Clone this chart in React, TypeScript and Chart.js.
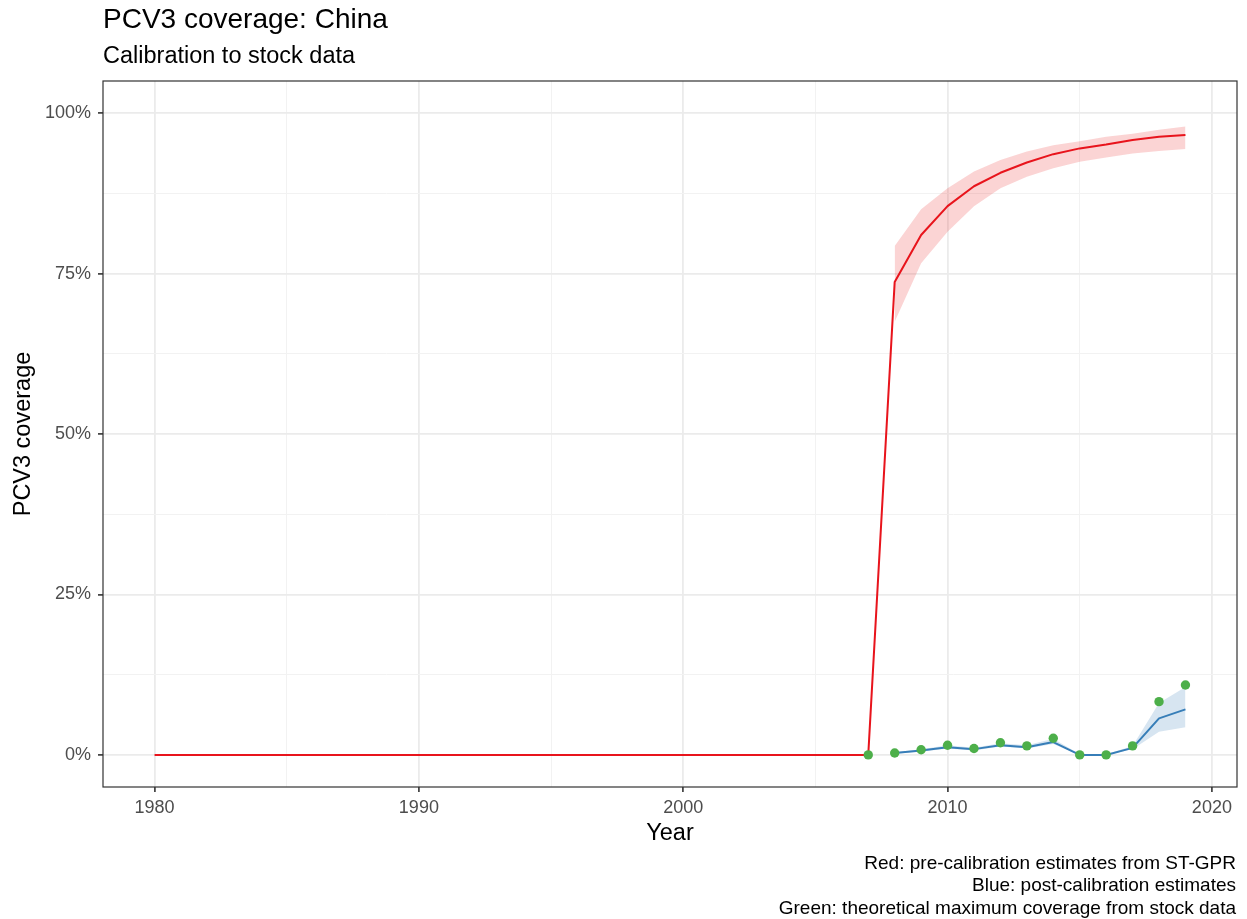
import React, { useEffect, useRef } from "react";
import { Chart, registerables } from "chart.js";

Chart.register(...registerables);

// Years and coverage values (percent)
const redYears = [
  1980, 1981, 1982, 1983, 1984, 1985, 1986, 1987, 1988, 1989,
  1990, 1991, 1992, 1993, 1994, 1995, 1996, 1997, 1998, 1999,
  2000, 2001, 2002, 2003, 2004, 2005, 2006, 2007, 2008, 2009,
  2010, 2011, 2012, 2013, 2014, 2015, 2016, 2017, 2018, 2019,
];
const redValues = [
  0, 0, 0, 0, 0, 0, 0, 0, 0, 0,
  0, 0, 0, 0, 0, 0, 0, 0, 0, 0,
  0, 0, 0, 0, 0, 0, 0, 0, 73.7, 81.0,
  85.5, 88.6, 90.7, 92.3, 93.6, 94.5, 95.1, 95.8, 96.3, 96.6,
];

const bandYears = [2008, 2009, 2010, 2011, 2012, 2013, 2014, 2015, 2016, 2017, 2018, 2019];
const redLower = [67.5, 76.6, 81.5, 85.5, 88.3, 90.1, 91.4, 92.4, 93.1, 93.7, 94.1, 94.4];
const redUpper = [79.3, 85.0, 88.3, 90.9, 92.7, 94.0, 95.0, 95.6, 96.3, 96.8, 97.4, 97.9];

const blueValues = [0.3, 0.7, 1.2, 0.9, 1.5, 1.2, 2.0, 0.0, 0.0, 1.1, 5.7, 7.1];
const blueLower = [0.2, 0.5, 1.0, 0.7, 1.3, 1.0, 1.7, 0.0, 0.0, 0.9, 3.6, 4.3];
const blueUpper = [0.4, 0.9, 1.5, 1.1, 1.8, 1.5, 2.5, 0.1, 0.1, 1.4, 8.1, 10.6];

const greenYears = [2007, 2008, 2009, 2010, 2011, 2012, 2013, 2014, 2015, 2016, 2017, 2018, 2019];
const greenValues = [0.0, 0.3, 0.8, 1.5, 1.0, 1.9, 1.4, 2.6, 0.0, 0.0, 1.4, 8.3, 10.9];

const xTickValues = [1980, 1985, 1990, 1995, 2000, 2005, 2010, 2015, 2020];
const yTickValues = [0, 12.5, 25, 37.5, 50, 62.5, 75, 87.5, 100];

const titleText = "PCV3 coverage: China";
const subtitleText = "Calibration to stock data";
const xTitle = "Year";
const yTitle = "PCV3 coverage";
const captionLines = [
  "Red: pre-calibration estimates from ST-GPR",
  "Blue: post-calibration estimates",
  "Green: theoretical maximum coverage from stock data",
];

const FONT = "'Liberation Sans', Arial, Helvetica, sans-serif";

const pts = (xs: number[], ys: number[]) => xs.map((x, i) => ({ x, y: ys[i] }));

const isMajorX = (v: number) => v % 10 === 0;
const isMajorY = (v: number) => v % 25 === 0;

const decorations = {
  id: "decorations",
  beforeDraw(chart: any) {
    const { ctx } = chart;
    ctx.save();
    ctx.fillStyle = "#ffffff";
    ctx.fillRect(0, 0, chart.width, chart.height);
    ctx.restore();
  },
  afterDraw(chart: any) {
    const { ctx, chartArea } = chart;
    const { left, right, top, bottom } = chartArea;
    ctx.save();
    // panel border
    ctx.strokeStyle = "#333333";
    ctx.lineWidth = 1.2;
    ctx.strokeRect(left, top, right - left, bottom - top);

    ctx.fillStyle = "#000000";
    ctx.textBaseline = "alphabetic";
    ctx.textAlign = "left";
    ctx.font = `28px ${FONT}`;
    ctx.fillText(titleText, left, 28);
    ctx.font = `23.5px ${FONT}`;
    ctx.fillText(subtitleText, left, 62.5);

    ctx.textAlign = "center";
    ctx.font = `23.5px ${FONT}`;
    ctx.fillText(xTitle, (left + right) / 2, 840);

    ctx.save();
    ctx.translate(30, (top + bottom) / 2);
    ctx.rotate(-Math.PI / 2);
    ctx.fillText(yTitle, 0, 0);
    ctx.restore();

    ctx.textAlign = "right";
    ctx.font = `19px ${FONT}`;
    captionLines.forEach((line, i) => {
      ctx.fillText(line, right - 1, 868.5 + i * 22.5);
    });
    ctx.restore();
  },
};

export default function App() {
  const canvasRef = useRef<HTMLCanvasElement | null>(null);

  useEffect(() => {
    const canvas = canvasRef.current;
    if (!canvas) return;

    const chart = new Chart(canvas, {
      type: "line",
      data: {
        datasets: [
          {
            label: "Green",
            data: pts(greenYears, greenValues),
            showLine: false,
            pointRadius: 4.7,
            pointBackgroundColor: "#4daf4a",
            pointBorderColor: "#4daf4a",
            pointBorderWidth: 0,
          },
          {
            label: "Blue",
            data: pts(bandYears, blueValues),
            borderColor: "#377eb8",
            borderWidth: 2,
            pointRadius: 0,
            tension: 0,
            fill: false,
          },
          {
            label: "Blue upper",
            data: pts(bandYears, blueUpper),
            borderWidth: 0,
            borderColor: "rgba(0,0,0,0)",
            pointRadius: 0,
            tension: 0,
            fill: 3,
            backgroundColor: "rgba(55,126,184,0.2)",
          },
          {
            label: "Blue lower",
            data: pts(bandYears, blueLower),
            borderWidth: 0,
            borderColor: "rgba(0,0,0,0)",
            pointRadius: 0,
            tension: 0,
            fill: false,
          },
          {
            label: "Red",
            data: pts(redYears, redValues),
            borderColor: "#e8141c",
            borderWidth: 2,
            pointRadius: 0,
            tension: 0,
            fill: false,
          },
          {
            label: "Red upper",
            data: pts(bandYears, redUpper),
            borderWidth: 0,
            borderColor: "rgba(0,0,0,0)",
            pointRadius: 0,
            tension: 0,
            fill: 6,
            backgroundColor: "rgba(235,40,40,0.2)",
          },
          {
            label: "Red lower",
            data: pts(bandYears, redLower),
            borderWidth: 0,
            borderColor: "rgba(0,0,0,0)",
            pointRadius: 0,
            tension: 0,
            fill: false,
          },
        ],
      },
      options: {
        animation: false,
        responsive: false,
        devicePixelRatio: 1,
        layout: { padding: { top: 81, right: 10, bottom: 62, left: 0 } },
        plugins: {
          legend: { display: false },
          tooltip: { enabled: false },
          title: { display: false },
        },
        elements: { line: { borderJoinStyle: "round", borderCapStyle: "butt" } },
        scales: {
          x: {
            type: "linear",
            min: 1978.05,
            max: 2020.95,
            afterBuildTicks: (scale: any) => {
              scale.ticks = xTickValues.map((v) => ({ value: v }));
            },
            afterFit: (scale: any) => {
              scale.height = 70;
            },
            border: { display: false },
            grid: {
              drawTicks: true,
              tickLength: 5,
              color: (c: any) => (isMajorX(c.tick.value) ? "#ebebeb" : "#f2f2f2"),
              lineWidth: (c: any) => (isMajorX(c.tick.value) ? 1.8 : 1),
              tickColor: (c: any) => (isMajorX(c.tick.value) ? "#333333" : "rgba(0,0,0,0)"),
              tickWidth: 1.6,
            },
            ticks: {
              autoSkip: false,
              maxRotation: 0,
              padding: 5,
              color: "#4d4d4d",
              font: { family: FONT, size: 18 },
              callback: (v: any) => (isMajorX(Number(v)) ? String(v) : ""),
            },
          },
          y: {
            type: "linear",
            min: -5,
            max: 105,
            afterBuildTicks: (scale: any) => {
              scale.ticks = yTickValues.map((v) => ({ value: v }));
            },
            afterFit: (scale: any) => {
              scale.width = 103;
            },
            border: { display: false },
            grid: {
              drawTicks: true,
              tickLength: 5,
              color: (c: any) => (isMajorY(c.tick.value) ? "#ebebeb" : "#f2f2f2"),
              lineWidth: (c: any) => (isMajorY(c.tick.value) ? 1.8 : 1),
              tickColor: (c: any) => (isMajorY(c.tick.value) ? "#333333" : "rgba(0,0,0,0)"),
              tickWidth: 1.6,
            },
            ticks: {
              autoSkip: false,
              padding: 7,
              color: "#4d4d4d",
              font: { family: FONT, size: 18 },
              callback: (v: any) => (isMajorY(Number(v)) ? `${v}%` : ""),
            },
          },
        },
      },
      plugins: [decorations],
    } as any);

    return () => chart.destroy();
  }, []);

  return (
    <div style={{ position: "fixed", left: 0, top: 0, width: 1247, height: 919, background: "#fff" }}>
      <canvas ref={canvasRef} width={1247} height={919} />
    </div>
  );
}
